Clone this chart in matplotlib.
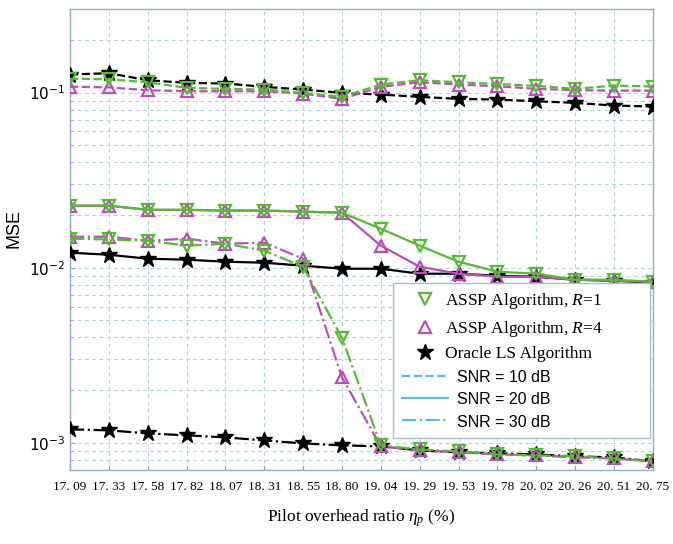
import matplotlib
matplotlib.use("Agg")
import matplotlib.pyplot as plt
from matplotlib.lines import Line2D
from matplotlib.ticker import LogLocator, NullFormatter

plt.rcParams['mathtext.fontset'] = 'custom'
plt.rcParams['mathtext.rm'] = 'Liberation Sans'
plt.rcParams['mathtext.it'] = 'Liberation Serif:italic'

x_labels = ['17. 09', '17. 33', '17. 58', '17. 82', '18. 07', '18. 31', '18. 55', '18. 80',
            '19. 04', '19. 29', '19. 53', '19. 78', '20. 02', '20. 26', '20. 51', '20. 75']

# SNR = 10 dB
R1_10 = [0.120, 0.119, 0.1145, 0.1063, 0.1050, 0.1040, 0.0996, 0.0945,
         0.1111, 0.1176, 0.1145, 0.1119, 0.1092, 0.1050, 0.1096, 0.1082]
R4_10 = [0.108, 0.107, 0.1031, 0.1017, 0.1017, 0.1017, 0.0987, 0.0920,
         0.1078, 0.1145, 0.1111, 0.1086, 0.1050, 0.1031, 0.1026, 0.1026]
OR_10 = [0.1267, 0.129, 0.1176, 0.1136, 0.1126, 0.1078, 0.1040, 0.0996,
         0.0974, 0.0945, 0.0920, 0.0912, 0.0892, 0.0873, 0.0843, 0.0832]
# SNR = 20 dB
R1_20 = [0.0226, 0.0226, 0.0214, 0.0214, 0.0212, 0.0212, 0.0209, 0.0206,
         0.0167, 0.01336, 0.01082, 0.00949, 0.00924, 0.00854, 0.00854, 0.00832]
R4_20 = [0.0226, 0.0226, 0.0214, 0.0214, 0.0212, 0.0212, 0.0209, 0.0206,
         0.01336, 0.01013, 0.00924, 0.00888, 0.00888, 0.00854, 0.00843, 0.00832]
OR_20 = [0.01218, 0.01186, 0.01126, 0.01111, 0.01082, 0.01068, 0.01027, 0.00987,
         0.00987, 0.00924, 0.00924, 0.0090, 0.00888, 0.00854, 0.00843, 0.00821]
# SNR = 30 dB
R1_30 = [0.01466, 0.0145, 0.01426, 0.01336, 0.01371, 0.01251, 0.01013, 0.00398,
         0.000968, 0.000918, 0.000894, 0.000859, 0.000848, 0.000838, 0.000815, 0.000784]
R4_30 = [0.01503, 0.01503, 0.01426, 0.01466, 0.01371, 0.01389, 0.01126, 0.002366,
         0.000955, 0.000906, 0.000882, 0.000859, 0.000848, 0.000826, 0.000815, 0.000784]
OR_30 = [0.001195, 0.001179, 0.001133, 0.001104, 0.001075, 0.001033, 0.000993, 0.000968,
         0.000955, 0.000906, 0.000882, 0.000871, 0.000859, 0.000838, 0.000826, 0.000784]

GREEN = '#55BB33'
MAGENTA = '#BB4FB8'
CYAN = '#55C0E0'
GRID = '#B3D3E3'

fig = plt.figure(figsize=(6.73, 5.44), dpi=100)
ax = fig.add_axes([0.104, 0.136, 0.866, 0.8475])

x = list(range(len(x_labels)))
styles = {'10': '--', '20': '-', '30': '-.'}

for key, o, r4, r1 in [('10', OR_10, R4_10, R1_10), ('20', OR_20, R4_20, R1_20), ('30', OR_30, R4_30, R1_30)]:
    ls = styles[key]
    ax.plot(x, o, ls, color='black', lw=1.6, marker='*', ms=12, mfc='black', mec='black', zorder=3)
    ax.plot(x, r4, ls, color=MAGENTA, lw=1.6, marker='^', ms=9, mfc='none', mec=MAGENTA, mew=1.6, zorder=4)
    ax.plot(x, r1, ls, color=GREEN, lw=1.6, marker='v', ms=9, mfc='none', mec=GREEN, mew=1.6, zorder=5)

ax.set_yscale('log')
ax.set_ylim(7e-4, 0.3)
ax.set_xlim(0, len(x_labels) - 1)
ax.set_xticks(x)
ax.set_xticklabels(x_labels, fontfamily='Liberation Serif', fontsize=9.5)
ax.yaxis.set_major_locator(LogLocator(base=10, numticks=10))
ax.yaxis.set_minor_locator(LogLocator(base=10, subs=range(2, 10), numticks=20))
ax.yaxis.set_minor_formatter(NullFormatter())
for lab in ax.get_yticklabels():
    lab.set_fontsize(11)

ax.grid(True, which='major', linestyle=(0, (3.5, 3)), color=GRID, lw=0.8)
ax.grid(True, which='minor', axis='y', linestyle=(0, (3.5, 3)), color=GRID, lw=0.8)
ax.tick_params(axis='both', which='both', direction='in', color='#8fb0c4')
ax.tick_params(axis='x', pad=8)
for sp in ax.spines.values():
    sp.set_color('#8fb0c4')
    sp.set_linewidth(1.0)

ax.set_xlabel('Pilot overhead ratio $\\eta_p$ (%)', fontfamily='Liberation Serif', fontsize=12.5, labelpad=10)
ax.set_ylabel('MSE', fontfamily='Liberation Sans', fontsize=13)
ax.yaxis.set_label_coords(-0.082, 0.523)

handles = [
    Line2D([], [], linestyle='none', marker='v', ms=9, mfc='none', mec=GREEN, mew=1.6),
    Line2D([], [], linestyle='none', marker='^', ms=9, mfc='none', mec=MAGENTA, mew=1.6),
    Line2D([], [], linestyle='none', marker='*', ms=12, mfc='black', mec='black'),
    Line2D([], [], linestyle='--', color=CYAN, lw=1.6),
    Line2D([], [], linestyle='-', color=CYAN, lw=1.6),
    Line2D([], [], linestyle='-.', color=CYAN, lw=1.6),
]
labels = ['ASSP Algorithm, $\\mathit{R}$=1', 'ASSP Algorithm, $\\mathit{R}$=4', 'Oracle LS Algorithm',
          'SNR = 10 dB', 'SNR = 20 dB', 'SNR = 30 dB']
leg = ax.legend(handles, labels, loc='lower left', bbox_to_anchor=(0.554, 0.069, 0.441, 0.311),
                mode='expand', fancybox=False, edgecolor='#a8bfcc', framealpha=1,
                handlelength=2.7, handletextpad=0.5, labelspacing=0.42, borderaxespad=0,
                borderpad=0.5, fontsize=12.5)
leg.get_frame().set_linewidth(1.0)
for i, t in enumerate(leg.get_texts()):
    if i < 3:
        t.set_fontfamily('Liberation Serif')
        t.set_fontsize(12.5)
        t.set_x(-12)
    else:
        t.set_fontfamily('Liberation Sans')
        t.set_fontsize(11.5)
# shift the marker handles a little to the right, as in the original legend
for h in leg.legend_handles[:3]:
    pass

fig.savefig('out.png', dpi=100)
